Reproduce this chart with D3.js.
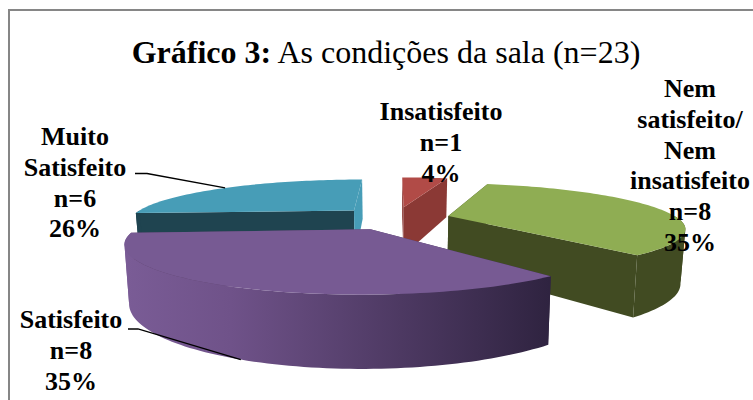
<!DOCTYPE html>
<html>
<head>
<meta charset="utf-8">
<script src="https://cdn.jsdelivr.net/npm/d3@7"></script>
<style>
  html, body { margin: 0; padding: 0; background: #fff; overflow: hidden; }
  svg text { font-family: "Liberation Serif", serif; fill: #000; }
</style>
</head>
<body>
<div id="chart"></div>
<script>
// Data
const categories = ['Insatisfeito', 'Nem satisfeito/ Nem insatisfeito', 'Satisfeito', 'Muito Satisfeito'];
const counts = [1, 8, 8, 6];
const percents = ['4%', '35%', '35%', '26%'];
const labelLines = [
  ['Insatisfeito'],
  ['Nem', 'satisfeito/', 'Nem', 'insatisfeito'],
  ['Satisfeito'],
  ['Muito', 'Satisfeito']
];
const topColors = ['#b14b47', '#8fad53', '#775a93', '#479db7'];
const wallColors = ['#8b3935', '#414b22', 'url(#purple-wall)', '#1f4450'];
const backWallColors = ['#8b3935', '#414b22', '#5a4068', '#479db7'];

// Layout
const width = 753, height = 400;
const labelPos = [
  { x: 441, y: 120 },
  { x: 690, y: 97 },
  { x: 71, y: 328 },
  { x: 75, y: 145 }
];
const lineStep = 30.8;
// per slice tweaks, the original's perspective is not a clean disc
const explodeScale = [1, 0.9, 1, 1];
const widthScale = [1, 1.05, 1.01, 1.03];

// Fake 3D camera: a tilted disc with perspective
const cam = { px: 396, py: 218, rx: 218, ry: 42, k: 0.25, depth: 51, shrink: 0.983, explode: 0.276 };

function project(X, V, lower) {
  const w = 1 + cam.k * V;
  const x = cam.rx * X / w;
  const y = -cam.ry * V / w + (lower ? cam.depth / w : 0);
  return [cam.px + x * (lower ? cam.shrink : 1), cam.py + y];
}

const svg = d3.select('#chart').append('svg')
  .attr('width', width)
  .attr('height', height);

// chart area border, runs off the right and bottom of the picture
svg.append('rect')
  .attr('x', 9).attr('y', 10)
  .attr('width', 760).attr('height', 420)
  .attr('fill', '#fff')
  .attr('stroke', '#868686')
  .attr('stroke-width', 2);

const defs = svg.append('defs');
const grad = defs.append('linearGradient')
  .attr('id', 'purple-wall')
  .attr('gradientUnits', 'userSpaceOnUse')
  .attr('x1', 125).attr('x2', 550).attr('y1', 0).attr('y2', 0);
grad.append('stop').attr('offset', '0%').attr('stop-color', '#7a5c96');
grad.append('stop').attr('offset', '25%').attr('stop-color', '#6f5289');
grad.append('stop').attr('offset', '100%').attr('stop-color', '#2f2340');

const pie = d3.pie().sort(null).value(d => d);
const slices = pie(counts);
const line = d3.line();

// Points of one slice, in camera space
function sliceGeom(s) {
  const mid = (s.startAngle + s.endAngle) / 2;
  const ox = Math.sin(mid) * cam.explode * explodeScale[s.index];
  const ov = Math.cos(mid) * cam.explode * explodeScale[s.index];
  const rim = (a, lower) => project(ox + Math.sin(a) * widthScale[s.index], ov + Math.cos(a), lower);
  const apex = lower => project(ox, ov, lower);
  const arcAngles = (a0, a1) => {
    const n = Math.max(2, Math.ceil((a1 - a0) * 40));
    return d3.range(n + 1).map(i => a0 + (a1 - a0) * i / n);
  };
  return { mid, rim, apex, arcAngles };
}

const pieG = svg.append('g');

// far slices first so the near ones cover them
[3, 0, 1, 2].forEach(i => {
  const s = slices[i];
  const g = sliceGeom(s);
  const sg = pieG.append('g').attr('class', 'slice');

  // radial walls
  [s.startAngle, s.endAngle].forEach(a => {
    const front = Math.sin(a) > 0 && Math.abs(a - Math.PI * 2) > 1e-6 ? wallColors[i] : backWallColors[i];
    const color = a === s.startAngle && i === 3 ? wallColors[i] : front;
    sg.append('path')
      .attr('d', line([g.apex(false), g.rim(a, false), g.rim(a, true), g.apex(true)]) + 'Z')
      .attr('fill', color);
  });

  // outer wall, only the part facing the viewer
  // split at the silhouette: the strip folds over there and a single
  // polygon would cancel itself out
  const a0 = Math.max(s.startAngle, Math.PI / 2);
  const a1 = Math.min(s.endAngle, Math.PI * 1.5);
  if (a1 > a0) {
    const angles = g.arcAngles(a0, a1);
    const xs = angles.map(a => g.rim(a, false)[0]);
    const cuts = [0, d3.minIndex(xs), d3.maxIndex(xs), angles.length - 1].sort(d3.ascending);
    d3.pairs(cuts).filter(c => c[1] > c[0]).forEach(c => {
      const part = angles.slice(c[0], c[1] + 1);
      const pts = part.map(a => g.rim(a, false)).concat(part.slice().reverse().map(a => g.rim(a, true)));
      sg.append('path').attr('d', line(pts) + 'Z').attr('fill', wallColors[i]);
    });
  }

  // top face
  const topPts = [g.apex(false)].concat(g.arcAngles(s.startAngle, s.endAngle).map(a => g.rim(a, false)));
  sg.append('path').attr('d', line(topPts) + 'Z').attr('fill', topColors[i]);
});

// Leader lines
const leaders = [
  { i: 3, lower: false, from: 135, elbow: 147, y: 173.5 },
  { i: 2, lower: true, from: 128, elbow: 138, y: 329 }
];
leaders.forEach(l => {
  const g = sliceGeom(slices[l.i]);
  const end = g.rim(g.mid, l.lower);
  svg.append('path')
    .attr('d', line([[l.from, l.y], [l.elbow, l.y], end]))
    .attr('fill', 'none')
    .attr('stroke', '#000')
    .attr('stroke-width', 1.3);
});

// Title
const title = svg.append('text')
  .attr('x', 386).attr('y', 63)
  .attr('text-anchor', 'middle')
  .style('font-size', '32px');
title.append('tspan').style('font-weight', 'bold').text('Gráfico 3:');
title.append('tspan').text(' As condições da sala (n=23)');

// Data labels
categories.forEach((c, i) => {
  const lines = labelLines[i].concat(['n=' + counts[i], percents[i]]);
  svg.append('text')
    .attr('text-anchor', 'middle')
    .style('font-size', '26px')
    .style('font-weight', 'bold')
    .selectAll('tspan')
    .data(lines)
    .enter()
    .append('tspan')
    .attr('x', labelPos[i].x)
    .attr('y', (d, j) => labelPos[i].y + j * lineStep)
    .text(d => d);
});
</script>
</body>
</html>
